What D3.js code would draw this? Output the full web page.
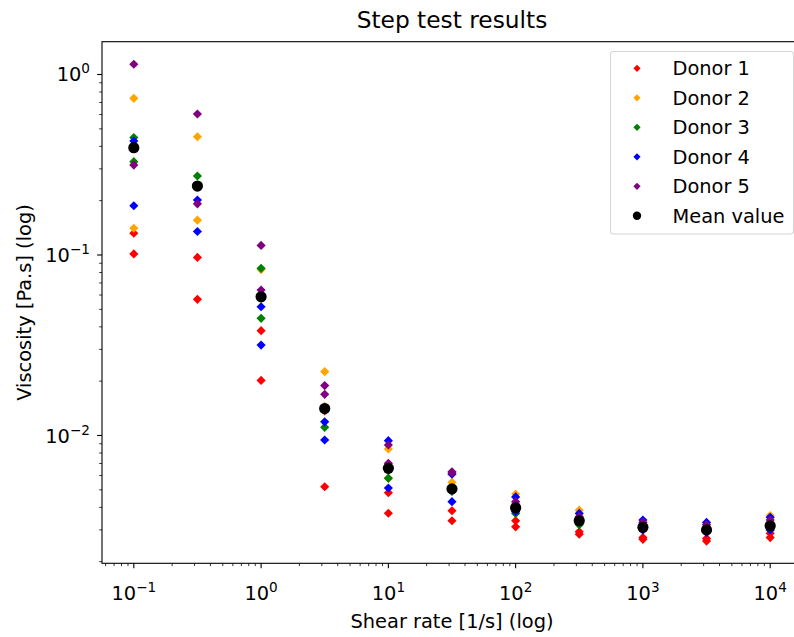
<!DOCTYPE html>
<html>
<head>
<meta charset="utf-8">
<script src="https://cdn.jsdelivr.net/npm/d3@7"></script>
<style>
  body { margin: 0; background: #fff; }
  svg { display: block; font-family: "DejaVu Sans", sans-serif; }
</style>
</head>
<body>
<svg id="chart" width="794" height="637"></svg>
<script>
// shear rates of the step test, half-decade steps
const shearRates = [0.1, 0.316, 1, 3.16, 10, 31.6, 100, 316, 1000, 3162, 10000];

// two runs per donor, viscosity in Pa.s
const donor1 = [
  [0.132, 0.097, 0.0381, 0.0137, 0.00482, 0.00383, 0.00337, 0.00293, 0.00272, 0.00269, 0.00287],
  [0.1014, 0.0568, 0.0202, 0.0052, 0.00371, 0.00337, 0.00312, 0.00284, 0.00266, 0.0026, 0.00272],
];
const donor2 = [
  [0.738, 0.452, 0.083, 0.0226, 0.00842, 0.0055, 0.00474, 0.00386, 0.0033, 0.0032, 0.0036],
  [0.1406, 0.156, 0.057, 0.0145, 0.00579, 0.005, 0.0042, 0.0035, 0.0031, 0.003, 0.0033],
];
const donor3 = [
  [0.447, 0.274, 0.0844, 0.014, 0.0064, 0.005, 0.0039, 0.0034, 0.0031, 0.003, 0.0031],
  [0.329, 0.242, 0.0446, 0.0111, 0.0058, 0.0049, 0.0037, 0.0032, 0.003, 0.003, 0.003],
];
const donor4 = [
  [0.428, 0.2017, 0.0517, 0.0119, 0.00936, 0.0061, 0.00457, 0.0037, 0.0034, 0.0033, 0.00352],
  [0.1875, 0.135, 0.0317, 0.00944, 0.00512, 0.0043, 0.00378, 0.0033, 0.003, 0.0029, 0.003],
];
const donor5 = [
  [1.14, 0.604, 0.113, 0.0189, 0.00886, 0.0063, 0.0043, 0.00355, 0.0033, 0.0032, 0.0034],
  [0.315, 0.192, 0.064, 0.0169, 0.00701, 0.0062, 0.0041, 0.0034, 0.0032, 0.0031, 0.0032],
];
const meanValues = [0.393, 0.241, 0.0587, 0.0141, 0.00658, 0.00506, 0.00398, 0.00337, 0.0031, 0.003, 0.00316];

const seriesNames = ["Donor 1", "Donor 2", "Donor 3", "Donor 4", "Donor 5", "Mean value"];
const seriesColors = ["red", "orange", "green", "blue", "purple", "black"];
const xTickExps = [-1, 0, 1, 2, 3, 4];
const yTickExps = [0, -1, -2];

const svg = d3.select("#chart");
const plot = { left: 102, right: 802, top: 41.7, bottom: 563.3 };

const x = d3.scaleLog()
  .domain([Math.pow(10, -1.25), Math.pow(10, 4.25)])
  .range([plot.left, plot.right]);
const y = d3.scaleLog()
  .domain([Math.pow(10, -2.708), Math.pow(10, 0.1817)])
  .range([plot.bottom, plot.top]);

// minor ticks 2..9 of every decade inside the domain
function minorTicks(scale) {
  const [a, b] = scale.domain();
  const out = [];
  for (let e = Math.floor(Math.log10(a)); e <= Math.ceil(Math.log10(b)); e++) {
    for (let m = 2; m <= 9; m++) {
      const v = m * Math.pow(10, e);
      if (v >= a && v <= b) out.push(v);
    }
  }
  return out;
}

function powLabel(sel, exp) {
  sel.append("tspan").text("10");
  sel.append("tspan")
    .attr("dy", -8)
    .attr("font-size", 13.6)
    .text(exp < 0 ? "\u2212" + Math.abs(exp) : exp);
}

const axisLayer = svg.append("g").attr("id", "axis-layer");

// x ticks
axisLayer.selectAll(".x-minor")
  .data(minorTicks(x).filter((d) => x(d) <= 794))
  .join("line")
  .attr("class", "x-minor")
  .attr("x1", (d) => x(d)).attr("x2", (d) => x(d))
  .attr("y1", plot.bottom).attr("y2", plot.bottom + 2.8)
  .attr("stroke", "black").attr("stroke-width", 0.8);

axisLayer.selectAll(".x-major")
  .data(xTickExps)
  .join("line")
  .attr("class", "x-major")
  .attr("x1", (d) => x(Math.pow(10, d))).attr("x2", (d) => x(Math.pow(10, d)))
  .attr("y1", plot.bottom).attr("y2", plot.bottom + 4.9)
  .attr("stroke", "black").attr("stroke-width", 1.1);

axisLayer.selectAll(".x-label")
  .data(xTickExps)
  .join("text")
  .attr("class", "x-label")
  .attr("x", (d) => x(Math.pow(10, d)))
  .attr("y", 600)
  .attr("text-anchor", "middle")
  .attr("font-size", 19.4)
  .each(function (d) {
    powLabel(d3.select(this), d);
  });

// y ticks
axisLayer.selectAll(".y-minor")
  .data(minorTicks(y))
  .join("line")
  .attr("class", "y-minor")
  .attr("x1", plot.left - 2.8).attr("x2", plot.left)
  .attr("y1", (d) => y(d)).attr("y2", (d) => y(d))
  .attr("stroke", "black").attr("stroke-width", 0.8);

axisLayer.selectAll(".y-major")
  .data(yTickExps)
  .join("line")
  .attr("class", "y-major")
  .attr("x1", plot.left - 4.9).attr("x2", plot.left)
  .attr("y1", (d) => y(Math.pow(10, d))).attr("y2", (d) => y(Math.pow(10, d)))
  .attr("stroke", "black").attr("stroke-width", 1.1);

axisLayer.selectAll(".y-label")
  .data(yTickExps)
  .join("text")
  .attr("class", "y-label")
  .attr("x", 90)
  .attr("y", (d) => y(Math.pow(10, d)) + 7)
  .attr("text-anchor", "end")
  .attr("font-size", 19.4)
  .each(function (d) {
    powLabel(d3.select(this), d);
  });

// axes frame
axisLayer.append("rect")
  .attr("x", plot.left).attr("y", plot.top)
  .attr("width", plot.right - plot.left).attr("height", plot.bottom - plot.top)
  .attr("fill", "none").attr("stroke", "black").attr("stroke-width", 1.1);

svg.append("text")
  .attr("x", (plot.left + plot.right) / 2).attr("y", 28)
  .attr("text-anchor", "middle").attr("font-size", 23.3)
  .text("Step test results");

svg.append("text")
  .attr("x", (plot.left + plot.right) / 2).attr("y", 628)
  .attr("text-anchor", "middle").attr("font-size", 19.4)
  .text("Shear rate [1/s] (log)");

svg.append("text")
  .attr("transform", `translate(31,${(plot.top + plot.bottom) / 2}) rotate(-90)`)
  .attr("text-anchor", "middle").attr("font-size", 19.4)
  .text("Viscosity [Pa.s] (log)");

// points
const donors = [donor1, donor2, donor3, donor4, donor5];
const diamond = d3.symbol().type(d3.symbolSquare).size(42);
const pointLayer = svg.append("g").attr("id", "point-layer");

donors.forEach((runs, i) => {
  const pts = runs.flatMap((run) => run.map((v, j) => ({ rate: shearRates[j], value: v })));
  pointLayer.append("g")
    .selectAll("path")
    .data(pts)
    .join("path")
    .attr("d", diamond)
    .attr("transform", (d) => `translate(${x(d.rate)},${y(d.value)}) rotate(45)`)
    .attr("fill", seriesColors[i]);
});

pointLayer.append("g")
  .selectAll("circle")
  .data(meanValues.map((v, j) => ({ rate: shearRates[j], value: v })))
  .join("circle")
  .attr("cx", (d) => x(d.rate))
  .attr("cy", (d) => y(d.value))
  .attr("r", 5.6)
  .attr("fill", "black");

// legend, upper right
const legend = svg.append("g").attr("id", "legend");
legend.append("rect")
  .attr("x", 610.5).attr("y", 51.5)
  .attr("width", 183).attr("height", 182.5)
  .attr("rx", 3)
  .attr("fill", "white").attr("fill-opacity", 0.8)
  .attr("stroke", "#d6d6d6").attr("stroke-width", 1.1);

const legendSymbol = d3.symbol().type(d3.symbolSquare).size(26);
const rows = legend.selectAll(".legend-row")
  .data(seriesNames)
  .join("g")
  .attr("class", "legend-row")
  .attr("transform", (d, i) => `translate(637,${68.3 + i * 29.5})`);

rows.each(function (d, i) {
  const row = d3.select(this);
  if (i < 5) {
    row.append("path").attr("d", legendSymbol).attr("transform", "rotate(45)").attr("fill", seriesColors[i]);
  } else {
    row.append("circle").attr("r", 4.2).attr("fill", "black");
  }
  row.append("text")
    .attr("x", 35.5).attr("y", 6.8)
    .attr("font-size", 19.4)
    .text(d);
});
</script>
</body>
</html>
